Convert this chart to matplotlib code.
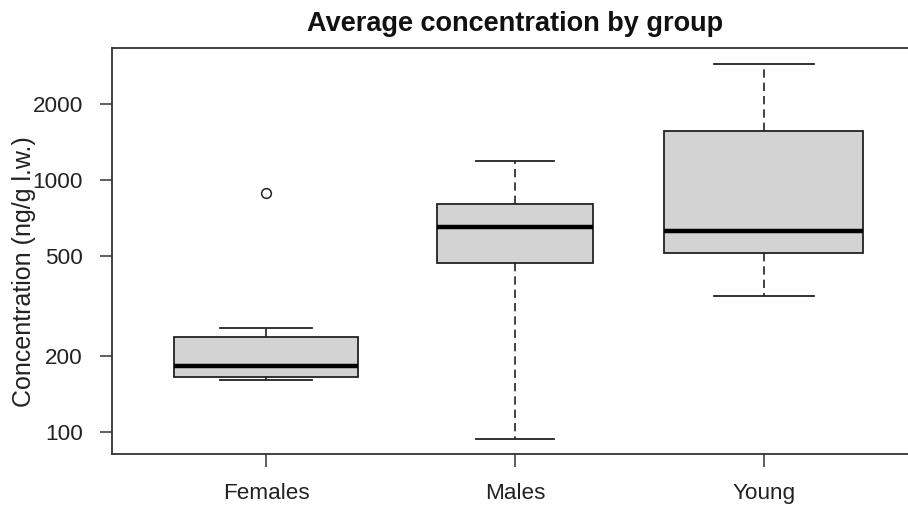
import matplotlib
matplotlib.use("Agg")
import matplotlib.pyplot as plt
from matplotlib.ticker import FixedLocator, NullLocator, FixedFormatter

plt.rcParams['font.family'] = ['Liberation Sans', 'DejaVu Sans']

groups = ["Females", "Males", "Young"]
whisk_lo = [161, 93.6, 346]
q1 = [165, 470, 515]
med = [183, 653, 628]
q3 = [238, 801, 1563]
whisk_hi = [260, 1193, 2884]
outliers = [[891], [], []]
box_widths = [0.74, 0.63, 0.80]
y_ticks = [100, 200, 500, 1000, 2000]

stats = []
for i, g in enumerate(groups):
    stats.append(dict(label=g, whislo=whisk_lo[i], q1=q1[i], med=med[i],
                      q3=q3[i], whishi=whisk_hi[i], fliers=outliers[i]))

W, H = 908, 507
fig = plt.figure(figsize=(W / 100, H / 100), dpi=100)
ax = fig.add_axes([112 / W, (H - 454) / H, 806 / W, 406 / H])

edge = '#222222'
ax.bxp(stats, positions=[1, 2, 3], widths=box_widths,
       capwidths=[w / 2 for w in box_widths],
       patch_artist=True, showfliers=True,
       boxprops=dict(facecolor='#d3d3d3', edgecolor=edge, linewidth=1.3),
       medianprops=dict(color='black', linewidth=3.2, solid_capstyle='butt'),
       whiskerprops=dict(color=edge, linewidth=1.2, linestyle=(0, (5, 3))),
       capprops=dict(color=edge, linewidth=1.3),
       flierprops=dict(marker='o', markerfacecolor='none', markeredgecolor=edge,
                       markersize=7, markeredgewidth=1.1))

ax.set_yscale('log')
ax.set_ylim(81.9, 3342)
ax.set_xlim(0.38, 3.62)
ax.yaxis.set_major_locator(FixedLocator(y_ticks))
ax.yaxis.set_major_formatter(FixedFormatter([str(t) for t in y_ticks]))
ax.yaxis.set_minor_locator(NullLocator())
ax.set_xticks([1, 2, 3])
ax.set_xticklabels(groups)

for s in ['top', 'left', 'bottom', 'right']:
    ax.spines[s].set_color('#333333')
    ax.spines[s].set_linewidth(1.3)
ax.spines['right'].set_visible(False)

ax.tick_params(axis='both', length=9, width=1.1, color='#333333',
               labelsize=16.2, labelcolor='#222222', pad=12)
ax.set_ylabel('Concentration (ng/g l.w.)', fontsize=18, color='#222222')
ax.yaxis.label.set_va('center')
ax.yaxis.label.set_ha('center')
ax.yaxis.set_label_coords((24 - 112) / 806, (454 - 272) / 406)
ax.set_title('Average concentration by group', fontsize=19.5, fontweight='bold',
             pad=12, color='#111111', x=(515 - 112) / 806)

fig.savefig('out.png', dpi=100)
